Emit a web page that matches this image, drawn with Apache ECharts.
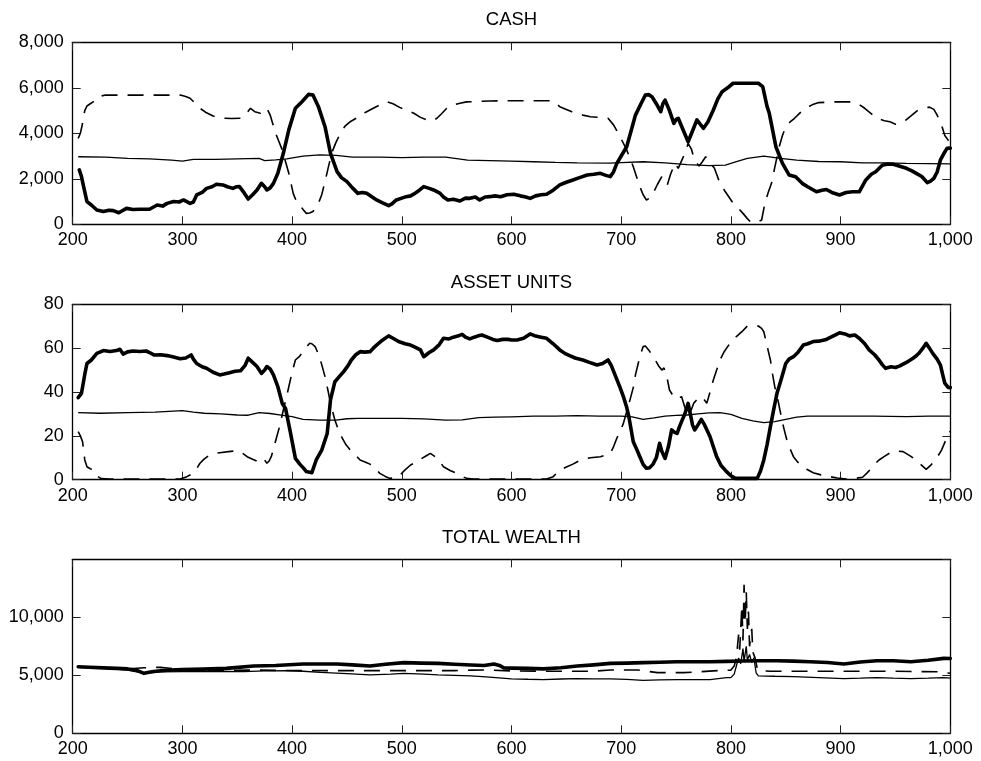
<!DOCTYPE html>
<html>
<head>
<meta charset="utf-8">
<script src="https://cdn.jsdelivr.net/npm/echarts@6.0.0/dist/echarts.min.js"></script>
<style>
html,body{margin:0;padding:0;background:#fff;}
#chart{width:981px;height:761px;}
</style>
</head>
<body>
<div id="chart"></div>
<script>
// ---- Data (time step, value) ----
const panelTitles = ['CASH', 'ASSET UNITS', 'TOTAL WEALTH'];
const xTicks = [200, 1000, 100];          // min, max, step
const cashTicks = [0, 8000, 2000];
const unitTicks = [0, 80, 20];
const wealthTicks = [0, 15000, 5000];

// CASH: thick solid (A), dashed (B), thin solid (C)
const cashA = [[206,2390],[208,2100],[210,1650],[213,1000],[217,850],[222,630],[228,560],[233,620],[237,600],[242,510],[249,700],[255,650],[261,660],[270,660],[277,850],[282,800],[286,920],[292,1000],[297,980],[301,1070],[307,920],[310,980],[313,1290],[318,1400],[322,1580],[327,1650],[331,1760],[337,1730],[341,1650],[346,1580],[349,1650],[352,1655],[356,1400],[360,1110],[364,1300],[368,1510],[372,1800],[375,1650],[377,1510],[380,1600],[383,1800],[387,2240],[392,3120],[397,4150],[403,5100],[409,5390],[415,5710],[419,5680],[424,5170],[430,4290],[435,3120],[441,2315],[445,2050],[450,1875],[455,1600],[460,1360],[464,1400],[468,1360],[473,1200],[477,1070],[482,950],[488,820],[491,900],[495,1070],[500,1150],[504,1215],[508,1250],[512,1360],[516,1500],[520,1655],[525,1580],[529,1510],[535,1360],[538,1200],[542,1070],[547,1100],[553,1025],[558,1150],[562,1140],[567,1200],[571,1070],[576,1200],[580,1215],[585,1250],[590,1215],[596,1300],[602,1320],[608,1250],[613,1200],[617,1140],[622,1250],[627,1300],[632,1320],[638,1500],[644,1730],[650,1850],[656,1950],[662,2050],[669,2170],[675,2200],[681,2240],[686,2150],[690,2095],[693,2300],[696,2680],[700,3000],[705,3410],[709,4100],[713,4800],[718,5300],[722,5680],[725,5700],[728,5610],[732,5300],[736,4950],[738,5300],[740,5460],[744,5000],[748,4440],[750,4600],[752,4660],[756,4200],[761,3630],[765,4100],[769,4590],[772,4400],[775,4220],[779,4500],[784,5025],[788,5500],[792,5830],[797,6000],[802,6200],[825,6200],[829,6050],[833,5170],[835,4880],[841,3410],[847,2680],[853,2170],[859,2090],[865,1800],[870,1650],[878,1430],[883,1500],[887,1530],[892,1400],[899,1290],[905,1400],[911,1430],[917,1430],[923,1950],[928,2200],[932,2310],[938,2600],[943,2650],[948,2640],[954,2550],[960,2460],[965,2350],[969,2240],[974,2100],[979,1830],[982,1900],[985,2020],[988,2300],[991,2830],[994,3100],[997,3340],[1000,3350]];
const cashB = [[205,3780],[207,4000],[209,4440],[211,5000],[213,5200],[216,5300],[219,5390],[223,5610],[230,5680],[280,5680],[298,5680],[303,5620],[307,5540],[311,5350],[316,5100],[322,4900],[328,4760],[337,4660],[345,4650],[353,4660],[358,4850],[362,5100],[366,4950],[371,4880],[374,5000],[377,5100],[380,4800],[385,4000],[391,3270],[397,2240],[401,1360],[404,1000],[407,850],[410,650],[413,480],[416,500],[419,560],[424,920],[427,1300],[430,1875],[433,2500],[436,3120],[440,3600],[444,4000],[448,4300],[453,4510],[458,4650],[462,4800],[468,4950],[474,5100],[480,5250],[486,5390],[492,5300],[498,5140],[505,5000],[511,4880],[517,4700],[523,4590],[528,4550],[532,4660],[536,4850],[541,5100],[547,5250],[553,5320],[559,5380],[565,5390],[580,5420],[600,5430],[620,5430],[638,5430],[644,5170],[650,5050],[655,4950],[659,4910],[665,4800],[672,4730],[680,4700],[688,4660],[693,4370],[699,3850],[705,3270],[711,2530],[717,1655],[720,1300],[723,1070],[726,1150],[729,1360],[733,1750],[737,2095],[740,1900],[742,1730],[745,2200],[749,2680],[752,2460],[756,2900],[759,3200],[761,3560],[764,3300],[767,2800],[771,2560],[774,2750],[777,2970],[781,2700],[785,2460],[790,1800],[794,1500],[797,1290],[801,1000],[805,800],[811,480],[815,250],[818,100],[824,80],[828,190],[831,920],[834,1400],[837,1800],[840,2500],[844,3400],[847,3900],[850,4290],[854,4500],[858,4660],[863,4900],[868,5100],[874,5250],[880,5350],[895,5380],[910,5380],[916,5300],[922,5100],[927,4900],[933,4660],[940,4550],[945,4510],[950,4400],[955,4500],[960,4600],[965,4800],[970,5000],[976,5100],[981,5150],[985,5050],[988,4800],[992,4370],[995,3900],[998,3700],[1000,3550]];
const cashC = [[205,2970],[230,2950],[250,2900],[270,2880],[290,2820],[300,2780],[310,2850],[330,2850],[350,2880],[370,2900],[375,2800],[385,2830],[395,2880],[410,3000],[425,3050],[440,3030],[455,2950],[480,2950],[500,2930],[520,2950],[540,2950],[560,2820],[580,2800],[600,2780],[620,2750],[640,2720],[660,2700],[690,2690],[700,2710],[720,2750],[740,2700],[760,2620],[780,2580],[795,2600],[805,2750],[815,2900],[830,3000],[845,2900],[860,2820],[880,2760],[900,2750],[920,2700],[940,2700],[960,2680],[980,2670],[1000,2660]];

// ASSET UNITS
const unitsA = [[205,37.4],[208,39.4],[211,48],[213,53],[217,54.6],[222,57.6],[228,58.9],[234,58.5],[240,58.9],[243,59.5],[246,57.3],[250,58.3],[255,58.7],[261,58.5],[267,58.7],[270,58],[274,56.9],[280,57],[286,56.6],[292,56],[298,55.2],[303,55.5],[308,56.9],[310,55],[313,53],[318,51.5],[322,50.8],[328,49],[334,47.8],[338,48.2],[343,48.8],[348,49.5],[353,49.7],[357,52],[360,55.4],[364,53.5],[368,51.6],[372,48.5],[375,50],[377,51.6],[380,50.5],[383,47.8],[387,42.4],[391,34.8],[394,32.5],[398,22.7],[403,9.7],[407,7.1],[410,5.5],[413,3.7],[418,3.2],[422,9],[427,13.5],[432,21.1],[435,36.4],[439,44.7],[443,47],[447,49.3],[451,52],[454,54.6],[458,57],[462,58.4],[466,58.2],[471,58.4],[474,60],[477,61.4],[482,63.5],[488,65.6],[492,64.5],[497,63],[503,62],[508,61.4],[512,60.5],[517,59.2],[520,56.1],[525,58],[529,59.2],[534,61.5],[538,64.5],[543,64.2],[547,65],[551,65.5],[555,66.3],[558,65],[562,64.2],[566,65],[569,65.5],[573,66],[578,65],[583,64],[587,63.5],[592,64],[597,64],[600,63.7],[605,63.7],[611,64.5],[617,66.5],[622,65.5],[627,65],[632,64.5],[638,62],[644,59.2],[649,57.5],[653,56.6],[658,55.5],[665,54.6],[671,53.5],[678,52.3],[683,53],[688,54.6],[691,52],[695,47],[699,42],[702,37.9],[705,33],[707,28.7],[709,23],[711,17.3],[714,14],[717,10.5],[720,7],[723,5.2],[726,5.5],[729,7.1],[732,10],[735,16.6],[737,13],[740,9.7],[743,15],[746,22.7],[749,21.5],[751,21.1],[753,24],[755,26.5],[758,30],[761,34.8],[763,30],[765,25],[767,22.7],[770,25],[773,27.5],[776,25],[781,19.6],[784,15],[787,10.5],[791,6.5],[796,3.7],[800,1.8],[804,0.6],[824,0.6],[827,4],[830,9],[833,16],[836,24.2],[839,32],[842,39.4],[846,46],[850,53],[853,55],[857,56.1],[861,58],[866,61.4],[870,62],[875,63],[880,63.2],[887,64],[893,65.5],[899,67],[904,66.5],[908,65.6],[913,66],[917,64.5],[922,62],[926,59.2],[931,57],[935,54.6],[938,52.5],[941,50.8],[946,51.5],[950,51.2],[954,51.9],[960,53.5],[966,55.4],[969,56.5],[972,58],[975,60],[978,62.2],[981,60],[984,57.6],[988,55],[991,52.3],[993,48],[995,44],[998,42.1],[1000,42]];
const unitsB = [[205,21.9],[207,20],[209,17.3],[211,9],[213,5.9],[216,5],[219,4.4],[222,1.7],[226,0.5],[234,0.3],[298,0.3],[304,1.4],[310,2.9],[313,5],[316,7.5],[320,9.5],[325,11.3],[330,12],[334,12.3],[342,12.8],[350,13.2],[355,12],[359,10.5],[364,9.3],[369,8.2],[372,9],[374,9.7],[377,7.5],[379,8.5],[381,10.5],[383,14],[386,19.6],[389,25],[392,31.8],[395,38],[397,42.4],[400,49],[403,54.6],[407,56.4],[412,59.9],[416,62.2],[418,62],[421,60.7],[425,56.1],[430,47],[433,40],[435,34.8],[439,27.2],[442,23],[445,19.6],[449,16],[453,13.5],[458,11],[462,9],[467,8],[471,7.1],[476,5],[480,2.9],[485,1.5],[489,0.6],[493,0.8],[497,1.4],[502,4],[508,6.7],[513,8],[517,9.3],[522,10.8],[526,12],[529,11],[532,9.7],[535,8],[538,5.9],[544,4.2],[550,2.9],[555,1.5],[559,0.6],[565,0.3],[632,0.3],[638,1.4],[644,4.4],[650,5.8],[656,7.1],[660,8.2],[665,9.3],[672,10],[681,10.5],[686,11.2],[690,12],[693,15],[696,18.9],[699,22],[702,25.7],[705,31],[708,36.4],[711,42],[713,47.8],[715,52],[717,56.1],[720,60.7],[722,61],[725,59.2],[728,57],[731,54.6],[734,52],[737,50],[739,51],[740,51.6],[742,46],[744,40.9],[747,38.5],[749,37.1],[752,37],[755,37.9],[758,33],[761,28.7],[764,32],[766,34.8],[769,36.5],[772,37.9],[775,37],[778,34.8],[781,40],[784,45.5],[787,50],[790,54.6],[794,58.5],[798,61.4],[801,63.5],[805,65.3],[810,67.5],[815,70.1],[825,70.1],[828,69],[830,67.5],[833,61],[836,54.6],[838,48],[840,42.4],[843,36],[845,31],[848,24],[851,18.1],[854,14],[857,10.5],[861,8],[866,5.9],[870,4.5],[875,3.2],[882,2.2],[890,1.4],[897,0.8],[905,0.3],[913,0.6],[920,1.1],[924,3],[928,5.2],[931,7],[935,9],[941,11],[947,12.8],[952,13],[957,12.8],[963,11],[969,9],[973,7],[978,4.7],[982,6.5],[986,9],[989,11],[992,13.5],[995,17],[998,21.1],[1000,22]];
const unitsC = [[205,30.6],[225,30.3],[250,30.6],[275,30.8],[300,31.5],[310,30.8],[320,30.3],[335,30],[350,29.5],[360,29.4],[370,30.6],[380,30.2],[390,29.5],[400,28.8],[410,27.5],[425,27.2],[440,27.2],[450,27.8],[460,28],[480,28],[500,28],[520,27.7],[540,27.2],[555,27.3],[570,28.3],[585,28.5],[600,28.7],[620,29],[640,29],[660,29.2],[680,29],[700,29],[710,28.7],[720,27.5],[730,28.2],[740,29],[750,29.3],[760,29.5],[770,30],[780,30.5],[790,30.6],[800,29.8],[810,28],[820,26.8],[830,26],[840,26.5],[850,27.5],[860,28.5],[870,29],[900,29],[930,29],[960,28.8],[980,29],[1000,29]];

// TOTAL WEALTH
const wealthA = [[205,5740],[215,5700],[228,5640],[240,5600],[250,5550],[258,5450],[265,5170],[272,5300],[280,5400],[289,5460],[300,5500],[319,5530],[340,5600],[365,5800],[385,5850],[410,5980],[441,5980],[455,5900],[471,5800],[485,5950],[502,6090],[518,6050],[533,6030],[548,5950],[563,5890],[575,5850],[584,5980],[589,5850],[593,5640],[600,5620],[615,5600],[629,5550],[645,5650],[660,5800],[675,5900],[690,6030],[705,6050],[720,6090],[735,6120],[751,6170],[766,6170],[781,6170],[796,6200],[811,6230],[826,6250],[842,6260],[857,6220],[872,6170],[888,6100],[903,5980],[918,6150],[933,6260],[948,6250],[964,6170],[980,6300],[994,6460],[1000,6450]];
const wealthB = [[205,5700],[230,5650],[250,5550],[265,5650],[280,5690],[300,5500],[319,5400],[340,5420],[365,5450],[400,5400],[437,5400],[471,5400],[507,5400],[548,5400],[563,5450],[578,5460],[600,5380],[629,5350],[660,5350],[675,5350],[690,5460],[715,5460],[733,5230],[757,5230],[770,5300],[788,5400],[800,5450],[803,5800],[805,6500],[807,8500],[808,7200],[810,11000],[811,8000],[812,12800],[813,9500],[814,12200],[815,9000],[816,10500],[817,7500],[819,9000],[820,7000],[822,6500],[824,5600],[826,5400],[836,5350],[900,5350],[950,5350],[990,5300],[1000,5170]];
const wealthC = [[205,5690],[230,5600],[250,5450],[265,5170],[280,5300],[300,5320],[340,5330],[356,5320],[375,5380],[395,5400],[410,5350],[426,5260],[450,5150],[471,5030],[490,5100],[502,5170],[520,5100],[533,5030],[548,5000],[563,4950],[580,4850],[600,4700],[615,4660],[629,4630],[645,4680],[660,4710],[675,4700],[690,4690],[705,4650],[720,4570],[735,4600],[751,4630],[781,4630],[796,4800],[800,4800],[803,5100],[805,5800],[807,6500],[809,6000],[811,7300],[812,6200],[814,7500],[815,6300],[817,6800],[819,6100],[821,6500],[823,5200],[825,4950],[840,4920],[857,4890],[880,4800],[903,4710],[918,4750],[933,4800],[948,4750],[964,4710],[980,4750],[994,4800],[1000,4750]];

// ---- Chart ----
const FONT = '"Liberation Sans", Arial, Helvetica, sans-serif';
const fmt = v => String(v).replace(/\B(?=(\d{3})+(?!\d))/g, ',');
const gridBoxes = [
  {left: 72.7, right: 30.7, top: 42.3, height: 182},
  {left: 72.7, right: 30.7, top: 304.3, height: 175.4},
  {left: 72.7, right: 30.7, top: 559.3, height: 174}
];
const yTickSets = [cashTicks, unitTicks, wealthTicks];
const lineCol = '#000';

const xAxes = [], yAxes = [];
gridBoxes.forEach((g, i) => {
  const common = {
    gridIndex: i, type: 'value', min: xTicks[0], max: xTicks[1], interval: xTicks[2],
    axisLine: {show: true, onZero: false, lineStyle: {color: lineCol, width: 1.3}},
    axisTick: {show: true, inside: true, length: 8, lineStyle: {color: '#222', width: 1}},
    splitLine: {show: false}
  };
  xAxes.push(Object.assign({}, common, {
    position: 'bottom',
    axisLabel: {show: true, margin: 7, fontSize: 18, fontFamily: FONT, color: '#000', formatter: fmt,
      showMinLabel: true, showMaxLabel: true}
  }));
  xAxes.push(Object.assign({}, common, {position: 'top', axisLabel: {show: false}}));
  const yt = yTickSets[i];
  const ycommon = {
    gridIndex: i, type: 'value', min: yt[0], max: yt[1], interval: yt[2],
    axisLine: {show: true, onZero: false, lineStyle: {color: lineCol, width: 1.3}},
    axisTick: {show: true, inside: true, length: 8, lineStyle: {color: '#222', width: 1}},
    splitLine: {show: false}
  };
  yAxes.push(Object.assign({}, ycommon, {
    position: 'left',
    axisLabel: {show: true, margin: 9, fontSize: 18, fontFamily: FONT, color: '#000', formatter: fmt,
      showMinLabel: true, showMaxLabel: i !== 2}
  }));
  yAxes.push(Object.assign({}, ycommon, {position: 'right', axisLabel: {show: false}}));
});

function thin(data, i) {
  return {type: 'line', data, xAxisIndex: 2*i, yAxisIndex: 2*i, showSymbol: false, symbol: 'none',
    lineStyle: {color: '#000', width: 1.3}, z: 2, silent: true};
}
function dashed(data, i) {
  return {type: 'line', data, xAxisIndex: 2*i, yAxisIndex: 2*i, showSymbol: false, symbol: 'none',
    lineStyle: {color: '#000', width: 1.6, type: [16, 10]}, z: 3, silent: true};
}
function thick(data, i) {
  return {type: 'line', data, xAxisIndex: 2*i, yAxisIndex: 2*i, showSymbol: false, symbol: 'none',
    lineStyle: {color: '#000', width: 3.6, join: 'round', cap: 'round'}, z: 4, silent: true};
}

const titleCenters = [20.3, 282.7, 537.5];
const graphic = panelTitles.map((t, i) => ({
  type: 'text', x: 72.7 + (981 - 72.7 - 30.7) / 2, y: titleCenters[i], silent: true,
  style: {text: t, align: 'center', verticalAlign: 'middle', fontSize: 18.5, fontFamily: FONT, fill: '#000'}
}));

const chart = echarts.init(document.getElementById('chart'), null, {renderer: 'canvas'});
chart.setOption({
  animation: false,
  backgroundColor: '#fff',
  grid: gridBoxes,
  xAxis: xAxes,
  yAxis: yAxes,
  graphic: graphic,
  series: [
    thin(cashC, 0), dashed(cashB, 0), thick(cashA, 0),
    thin(unitsC, 1), dashed(unitsB, 1), thick(unitsA, 1),
    thin(wealthC, 2), dashed(wealthB, 2), thick(wealthA, 2)
  ]
});
</script>
</body>
</html>
